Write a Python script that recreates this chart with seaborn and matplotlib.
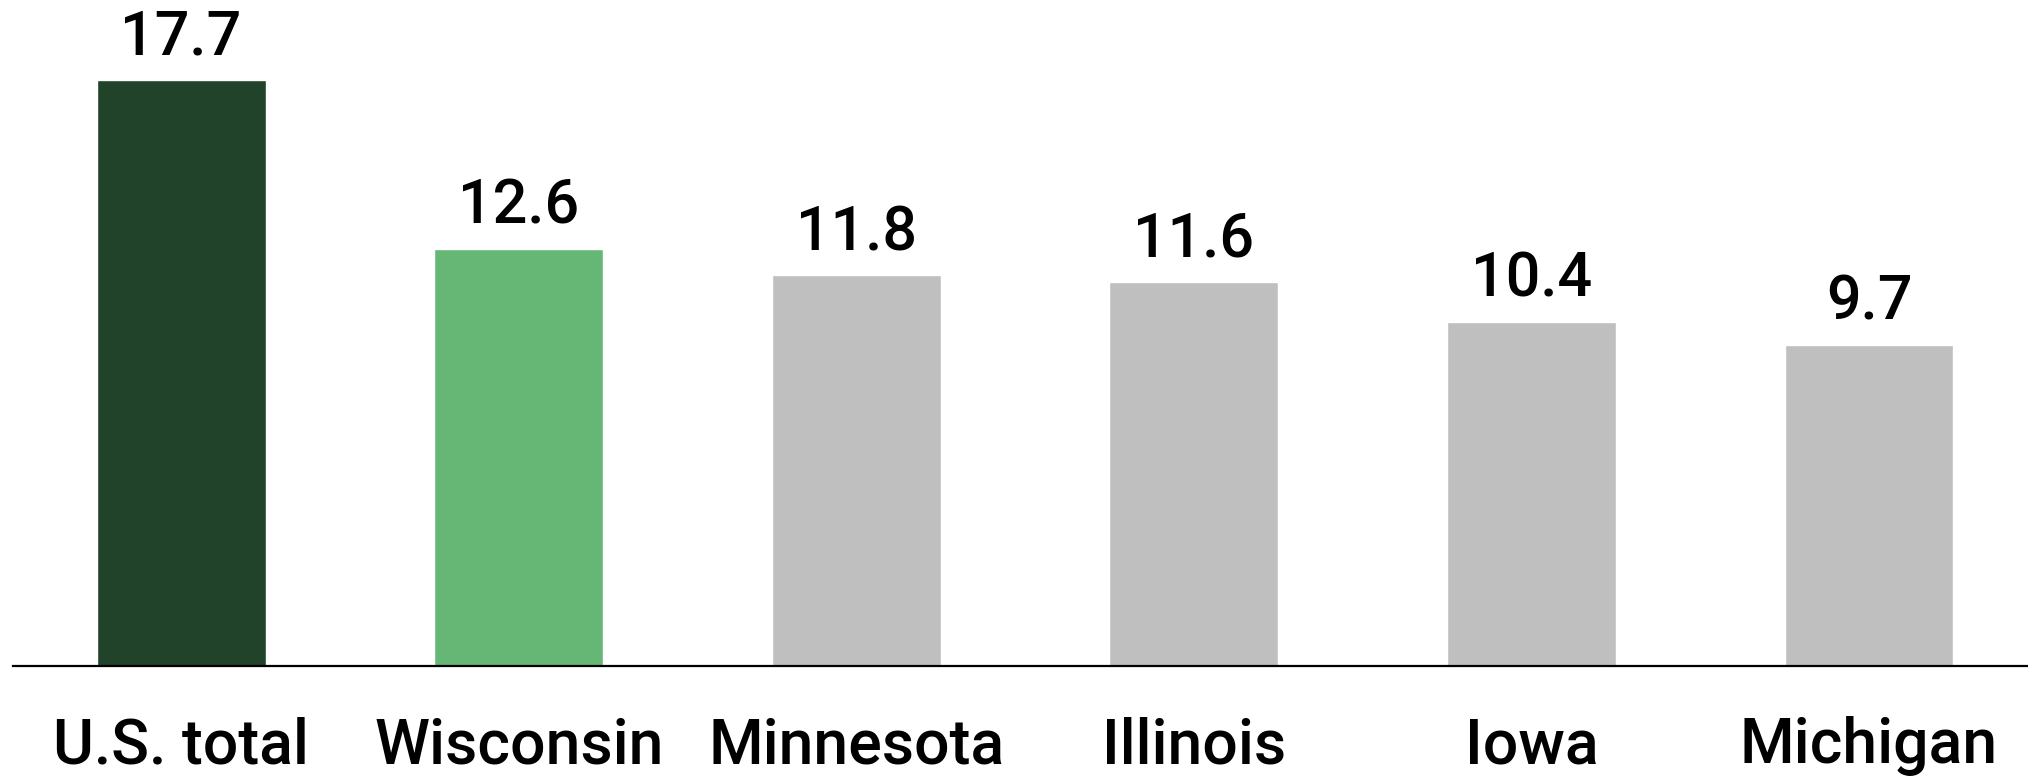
import pandas as pd
import matplotlib.pyplot as plt
import seaborn as sns

# chart data
regions = ["U.S. total", "Wisconsin", "Minnesota", "Illinois", "Iowa", "Michigan"]
values = [17.7, 12.6, 11.8, 11.6, 10.4, 9.7]
bar_colors = ["#20432A", "#66B676", "#BFBFBF", "#BFBFBF", "#BFBFBF", "#BFBFBF"]

df = pd.DataFrame({"region": regions, "value": values})

sns.set_style("white")
plt.rcParams['font.family'] = ['Roboto', 'Liberation Sans', 'DejaVu Sans']

fig = plt.figure(figsize=(20.28, 7.76), dpi=100)
ax = fig.add_axes([13 / 2028, 110 / 776, 2015 / 2028, 666 / 776])

sns.barplot(data=df, x="region", y="value", hue="region", palette=bar_colors,
            width=0.5, legend=False, ax=ax, saturation=1)

# value labels above bars
for i, v in enumerate(values):
    ax.text(i, v + 0.4, f"{v:.1f}", ha="center", va="bottom", fontsize=44,
            color="black", fontweight="medium")

ax.set_xlim(-0.498, 5.471)
ax.set_ylim(0, 20.12)
ax.set_xlabel("")
ax.set_ylabel("")
ax.set_yticks([])
ax.tick_params(axis="x", length=0, pad=36, labelsize=45, labelcolor="black")
for lbl in ax.get_xticklabels():
    lbl.set_fontweight("medium")
for side in ["top", "right", "left"]:
    ax.spines[side].set_visible(False)
ax.spines["bottom"].set_linewidth(1.6)
ax.spines["bottom"].set_color("black")

fig.savefig("out.png", dpi=100)
